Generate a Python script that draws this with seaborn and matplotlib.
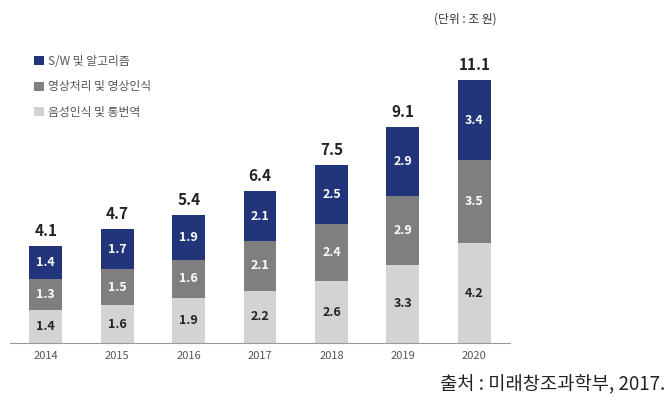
import matplotlib
matplotlib.use("Agg")
import matplotlib.pyplot as plt
import seaborn as sns
import pandas as pd
import numpy as np
from matplotlib.patches import Patch

years = ["2014", "2015", "2016", "2017", "2018", "2019", "2020"]
speech = [1.4, 1.6, 1.9, 2.2, 2.6, 3.3, 4.2]      # 음성인식 및 통번역
vision = [1.3, 1.5, 1.6, 2.1, 2.4, 2.9, 3.5]      # 영상처리 및 영상인식
software = [1.4, 1.7, 1.9, 2.1, 2.5, 2.9, 3.4]    # S/W 및 알고리즘
totals = [4.1, 4.7, 5.4, 6.4, 7.5, 9.1, 11.1]

series_names = ["S/W 및 알고리즘", "영상처리 및 영상인식", "음성인식 및 통번역"]
colors = {"S/W 및 알고리즘": "#22357a", "영상처리 및 영상인식": "#7f7f7f", "음성인식 및 통번역": "#d3d3d3"}

sns.set_style("white")
plt.rcParams['font.family'] = ['Noto Sans CJK KR', 'DejaVu Sans']

df = pd.DataFrame({"year": years, "speech": speech, "vision": vision, "software": software})
df["c1"] = df["speech"]
df["c2"] = df["speech"] + df["vision"]
df["c3"] = df["c2"] + df["software"]

fig = plt.figure(figsize=(6.72, 4.2), dpi=100)
ax = fig.add_axes([0.015, 77/420, 0.744, 313/420])

bw = 0.46
sns.barplot(data=df, x="year", y="c3", color=colors["S/W 및 알고리즘"], width=bw, ax=ax,
            saturation=1, linewidth=0, edgecolor="none")
sns.barplot(data=df, x="year", y="c2", color=colors["영상처리 및 영상인식"], width=bw, ax=ax,
            saturation=1, linewidth=0, edgecolor="none")
sns.barplot(data=df, x="year", y="c1", color=colors["음성인식 및 통번역"], width=bw, ax=ax,
            saturation=1, linewidth=0, edgecolor="none")

for i in range(len(years)):
    ax.text(i, df["c1"][i] / 2, f"{speech[i]:.1f}", ha="center", va="center",
            fontsize=9, color="#222222", fontweight="bold")
    ax.text(i, df["c1"][i] + vision[i] / 2, f"{vision[i]:.1f}", ha="center", va="center",
            fontsize=9, color="white", fontweight="bold")
    ax.text(i, df["c2"][i] + software[i] / 2, f"{software[i]:.1f}", ha="center", va="center",
            fontsize=9, color="white", fontweight="bold")
    ax.text(i, df["c3"][i] + 0.3, f"{totals[i]:.1f}", ha="center", va="bottom",
            fontsize=11, color="#222222", fontweight="bold")

ax.set_xlim(-0.5, 6.5)
ax.set_ylim(0, 13.2)
ax.set_xlabel("")
ax.set_ylabel("")
ax.set_yticks([])
for s in ["top", "right", "left"]:
    ax.spines[s].set_visible(False)
ax.spines["bottom"].set_color("#999999")
ax.spines["bottom"].set_linewidth(0.8)
ax.tick_params(axis="x", which="major", length=0, labelsize=8, labelcolor="#555555", pad=6)
ax.set_xticks(np.arange(-0.5, 7.0, 1.0), minor=True)
ax.tick_params(axis="x", which="minor", length=4, color="#999999", width=0.8, direction="out")

handles = [Patch(facecolor=colors[n], edgecolor="none") for n in series_names]
fig.legend(handles, series_names, loc="upper left", bbox_to_anchor=(0.035, 0.895),
           frameon=False, fontsize=8.5, labelcolor="#555555", handlelength=0.8,
           handleheight=0.8, handletextpad=0.4, labelspacing=1.05)

fig.text(0.692, 0.955, "(단위 : 조 원)", fontsize=8.5, color="#333333", ha="center", va="center")
fig.text(0.99, 0.083, "출처 : 미래창조과학부, 2017.", fontsize=13.5, color="#222222",
         ha="right", va="center")

fig.savefig("out.png", dpi=100)
